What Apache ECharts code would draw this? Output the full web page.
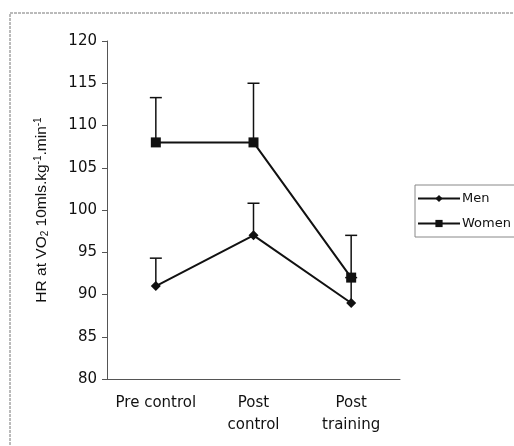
<!DOCTYPE html>
<html><head><meta charset="utf-8">
<script src="https://cdn.jsdelivr.net/npm/echarts@6/dist/echarts.min.js"></script>
<style>html,body{margin:0;padding:0;background:#fff}#c{width:514px;height:446px}</style>
</head><body><div id="c"></div>
<script>
var categories = ['Pre control', 'Post\ncontrol', 'Post\ntraining'];
var menMean = [91, 97, 89];
var menErrTop = [94.3, 100.8, 92];
var womenMean = [108, 108, 92];
var womenErrTop = [113.3, 115, 97];
var yTicks = {min: 80, max: 120, interval: 5};

var chart = echarts.init(document.getElementById('c'));
function errSeries(tops, means, z) {
  return {
    type: 'custom', z: z, silent: true,
    data: means.map(function (m, i) { return [i, m, tops[i]]; }),
    renderItem: function (params, api) {
      var p0 = api.coord([api.value(0), api.value(1)]);
      var p1 = api.coord([api.value(0), api.value(2)]);
      var st = {stroke: '#111', lineWidth: 1.5};
      return {type: 'group', children: [
        {type: 'line', shape: {x1: p0[0], y1: p0[1], x2: p1[0], y2: p1[1]}, style: st},
        {type: 'line', shape: {x1: p1[0] - 6, y1: p1[1], x2: p1[0] + 6, y2: p1[1]}, style: st}
      ]};
    }
  };
}
var font = 'Liberation Sans, Arial, sans-serif';
var wide = 'DejaVu Sans, sans-serif';
chart.setOption({
  animation: false,
  textStyle: {fontFamily: font},
  grid: {left: 107, right: 114, top: 41, bottom: 67},
  graphic: [{type: 'rect', shape: {x: 10, y: 13, width: 520, height: 440},
    style: {fill: 'none', stroke: '#777', lineWidth: 1, lineDash: [3, 1]}, z: -1}],
  legend: {
    orient: 'vertical', left: 415, top: 185, itemWidth: 42, itemHeight: 9, itemGap: 12,
    padding: [7, 8, 7, 2], borderColor: '#888', borderWidth: 1,
    textStyle: {fontSize: 13, color: '#111', fontFamily: wide, padding: [0, 0, 0, -3]},
    data: ['Men', 'Women']
  },
  xAxis: {
    type: 'category', data: categories, boundaryGap: true,
    axisLine: {lineStyle: {color: '#555', width: 1}},
    axisTick: {show: false},
    axisLabel: {fontSize: 15, fontFamily: wide, color: '#111', lineHeight: 22, margin: 13, interval: 0}
  },
  yAxis: {
    type: 'value', min: yTicks.min, max: yTicks.max, interval: yTicks.interval,
    name: '{a|HR at VO}{s|2}{a| 10mls.kg}{p|-1}{a|.min}{p|-1}',
    nameLocation: 'middle', nameGap: 57,
    nameTextStyle: {rich: {
      a: {fontSize: 15.5, color: '#111', fontFamily: font},
      s: {fontSize: 10, color: '#111', verticalAlign: 'bottom', padding: [7, 0, 0, 0], fontFamily: font},
      p: {fontSize: 10, color: '#111', verticalAlign: 'top', padding: [0, 0, 7, 0], fontFamily: font}
    }},
    splitLine: {show: false},
    axisLine: {show: true, lineStyle: {color: '#555', width: 1}},
    axisTick: {show: true, length: 5, lineStyle: {color: '#555'}},
    axisLabel: {fontSize: 15, fontFamily: wide, color: '#111', margin: 10}
  },
  series: [
    errSeries(menErrTop, menMean, 1),
    errSeries(womenErrTop, womenMean, 1),
    {name: 'Men', type: 'line', data: menMean, z: 3, symbol: 'diamond', symbolSize: 10,
      lineStyle: {color: '#111', width: 2}, itemStyle: {color: '#111'}},
    {name: 'Women', type: 'line', data: womenMean, z: 3, symbol: 'rect', symbolSize: 10,
      lineStyle: {color: '#111', width: 2}, itemStyle: {color: '#111'}}
  ]
});
</script></body></html>
